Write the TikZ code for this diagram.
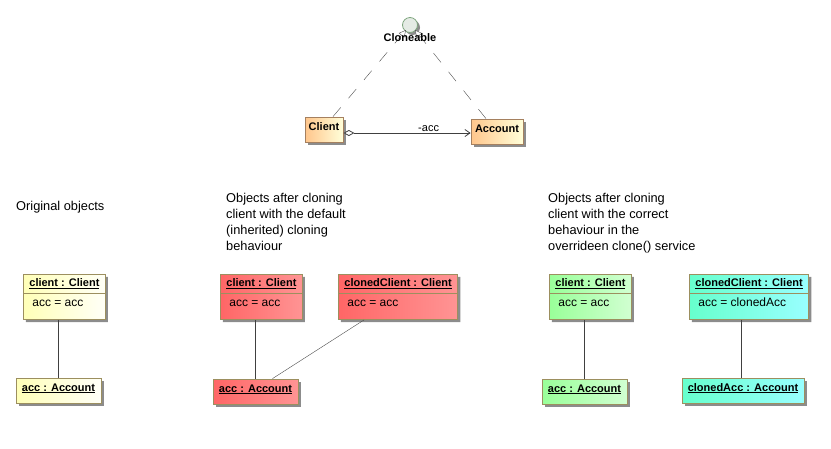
\documentclass[tikz,border=0pt]{standalone}
\usepackage{fontspec}
\setmainfont{Liberation Sans}
\usetikzlibrary{arrows.meta,shadows,shapes.multipart}
\definecolor{edgeobj}{HTML}{9C8F5F}
\definecolor{edgecls}{HTML}{A5805F}
\definecolor{fixedL}{HTML}{66FFCC}
\definecolor{fixedR}{HTML}{99FFFF}
\newcommand{\objname}[1]{\underline{\textbf{#1}}}
\newcommand{\objhead}[1]{\rule[-6.5pt]{0pt}{18.5pt}\objname{#1}}
\newcommand{\objslot}[1]{\rule[-13pt]{0pt}{25pt}\hspace{3pt}{\fontsize{12}{14}\selectfont #1}}
\begin{document}
\begin{tikzpicture}[
        x=1pt, y=-1pt,
        every node/.style={font=\fontsize{11}{13}\selectfont},
        boxshadow/.style={drop shadow={shadow xshift=2.5pt,shadow yshift=-2.5pt,fill=black!45,opacity=1}},
        cls/.style={rectangle,draw=edgecls,thick,boxshadow,left color=orange!45,right color=yellow!15,inner sep=0pt,minimum height=25pt,text height=9pt,text depth=7pt},
        obj/.style={rectangle,draw=edgeobj,thick,boxshadow,inner sep=0pt},
        single/.style={obj,minimum height=25pt,text height=9pt,text depth=8pt},
        slotted/.style={obj,rectangle split,rectangle split parts=2,rectangle split part align={center,left},
            rectangle split draw splits=true,inner xsep=6pt,inner ysep=0pt},
        plain/.style={left color=yellow!28,right color=yellow!3},
        wrong/.style={left color=red!60,right color=red!42},
        fine/.style={left color=green!40,right color=green!18},
        fixed/.style={left color=fixedL,right color=fixedR},
        note/.style={font=\fontsize{12.8}{16}\selectfont,align=left,anchor=north west,inner sep=0pt},
        link/.style={draw=black!75,thick},
        realize/.style={draw=black!70,dash pattern=on 12pt off 12pt,-{Triangle[open,fill=white,length=7pt,width=7pt]}}
        ]
        \useasboundingbox (0,0) rectangle (831,448);
        % class part
        \node (cloneable) [circle,draw=green!30!black!50,thick,fill=green!20!black!10,minimum size=15pt,inner sep=0pt,boxshadow] at (410,25) {};
        \node (clientCls) [cls,minimum width=38pt] at (324,129.5) {\textbf{Client}};
        \node (accountCls) [cls,minimum width=52pt] at (497,131.5) {\textbf{Account}};
        \coordinate (tipL) at (406,30);
        \coordinate (tipR) at (415,30);
        \draw [realize] ([xshift=9pt]clientCls.north) -- (tipL);
        \draw [realize] ([xshift=-11pt]accountCls.north) -- (tipR);
        \node (cloneableTxt) [font=\fontsize{11}{13}\selectfont\bfseries,inner sep=0pt] at (410,38) {Cloneable};
        \draw [link,{Diamond[open,fill=white,length=11pt,width=6pt]}-{Straight Barb[length=5pt,width=7pt]}]
            (clientCls.east |- 0,133) -- node[pos=.67,above,inner sep=1pt] (accLbl) {-acc} (accountCls.west |- 0,133);
        % original objects
        \node (origTxt) [note] at (16,201) {Original objects};
        \node (clientA) [slotted,plain,anchor=north west] at (23,274) {\objhead{client : Client}\nodepart{second}\objslot{acc = acc}};
        \node (accA) [single,plain,minimum width=85pt] at (58.5,390.5) {\objname{acc : Account}};
        \draw [link] (clientA.south -| accA.center) -- (accA.north);
        % default cloning
        \node (badTxt) [note] at (226,193) {Objects after cloning\\client with the default\\(inherited) cloning\\behaviour};
        \node (clientB) [slotted,wrong,anchor=north west] at (220,274) {\objhead{client : Client}\nodepart{second}\objslot{acc = acc}};
        \node (cloneB) [slotted,wrong,anchor=north west] at (338,274) {\objhead{clonedClient : Client}\nodepart{second}\objslot{acc = acc}};
        \node (accB) [single,wrong,minimum width=85pt] at (255.5,391.5) {\objname{acc : Account}};
        \draw [link] (clientB.south -| accB.center) -- (accB.north);
        \draw [draw=black!70] ([xshift=-34pt]cloneB.south) -- ([xshift=17pt]accB.north);
        % correct cloning
        \node (goodTxt) [note] at (548,193) {Objects after cloning\\client with the correct\\behaviour in the\\overrideen clone() service};
        \node (clientC) [slotted,fine,anchor=north west] at (549,274) {\objhead{client : Client}\nodepart{second}\objslot{acc = acc}};
        \node (accC) [single,fine,minimum width=85pt] at (584.5,391.5) {\objname{acc : Account}};
        \draw [link] (clientC.south -| accC.center) -- (accC.north);
        \node (cloneC) [slotted,fixed,anchor=north west] at (689,274) {\objhead{clonedClient : Client}\nodepart{second}\objslot{acc = clonedAcc}};
        \node (accD) [single,fixed,minimum width=122pt] at (743,390.5) {\objname{clonedAcc : Account}};
        \draw [link] (cloneC.south -| 741,0) -- (accD.north -| 741,0);
\end{tikzpicture}
\end{document}
